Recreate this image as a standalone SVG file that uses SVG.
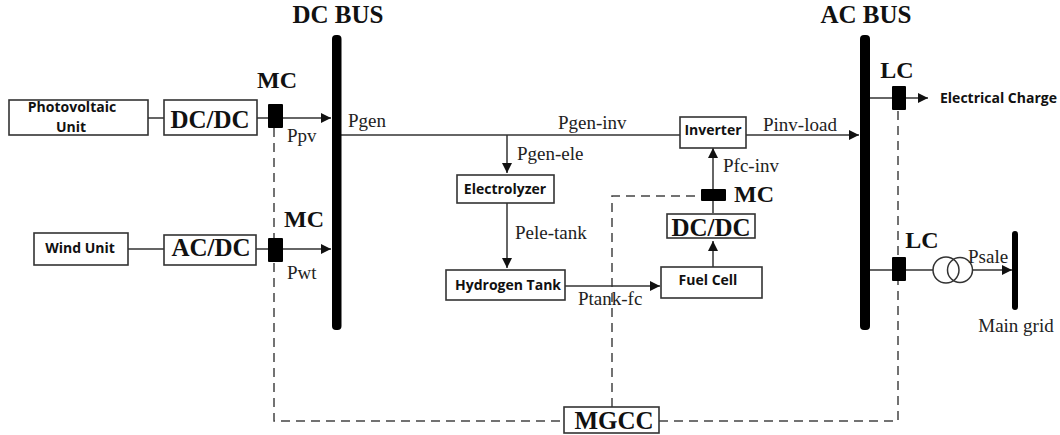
<svg xmlns="http://www.w3.org/2000/svg" width="1060" height="435" viewBox="0 0 1060 435">
<style>
.box{fill:#fff;stroke:#333;stroke-width:1.6}
.ln{fill:none;stroke:#333;stroke-width:1.5}
.arr{fill:none;stroke:#333;stroke-width:1.5;marker-end:url(#ah)}
.dash{fill:none;stroke:#444;stroke-width:1.5;stroke-dasharray:9 6}
.blk{fill:#000}
.s{font-family:"Open Sans","Liberation Sans",sans-serif;font-weight:700;font-size:14px;fill:#111}
.t{font-family:"Liberation Serif",serif;font-size:19px;fill:#222}
.b{font-family:"Liberation Serif",serif;font-weight:700;font-size:24px;fill:#111}
.h{font-family:"Liberation Serif",serif;font-weight:700;font-size:25px;fill:#111}
</style>
<defs>
<marker id="ah" markerUnits="userSpaceOnUse" markerWidth="11" markerHeight="10" refX="10" refY="5" orient="auto"><path d="M0 0L10 5L0 10Z" fill="#111"/></marker>
</defs>
<rect width="1060" height="435" fill="#fff"/>
<g id="connectors">
<path class="dash" d="M274 128V421H564"/>
<path class="dash" d="M659 421H898V110"/>
<path class="dash" d="M612 407V196H701"/>
<path class="ln" d="M148 118H164M257 118H268"/>
<path class="arr" d="M283 118H331"/>
<path class="ln" d="M128 249H164M256 249H268"/>
<path class="arr" d="M283 249H331"/>
<path class="ln" d="M341 135H680"/>
<path class="arr" d="M746 135H859"/>
<path class="arr" d="M507 135V173"/>
<path class="arr" d="M507 203V268"/>
<path class="arr" d="M565 286H660"/>
<path class="arr" d="M713 267V241"/>
<path class="ln" d="M713 213V201"/>
<path class="arr" d="M713 189V148"/>
<path class="ln" d="M870 98H892"/>
<path class="arr" d="M906 98H928"/>
<path class="ln" d="M870 270H892M906 270H933"/>
<path class="arr" d="M972 270H1012"/>
</g>
<g id="dc-bus"><rect class="blk" x="332" y="35" width="9.500" height="295" rx="4"/><text class="h" x="338" y="23" text-anchor="middle">DC BUS</text></g>
<g id="ac-bus"><rect class="blk" x="860" y="35" width="10" height="295" rx="4"/><text class="h" x="866" y="23" text-anchor="middle">AC BUS</text></g>
<g id="main-grid"><rect class="blk" x="1012" y="231" width="6" height="79" rx="3"/><text class="t" x="1016" y="332" text-anchor="middle">Main grid</text></g>
<g id="pv"><rect class="box" x="9" y="100" width="139" height="35"/><text class="s" x="72" y="112" text-anchor="middle">Photovoltaic</text><text class="s" x="71" y="132" text-anchor="middle">Unit</text></g>
<g id="dcdc1"><rect class="box" x="164" y="100" width="93" height="35"/><text class="h" x="210" y="128" text-anchor="middle">DC/DC</text></g>
<g id="wind"><rect class="box" x="34" y="233" width="94" height="32"/><text class="s" x="80" y="253" text-anchor="middle">Wind Unit</text></g>
<g id="acdc"><rect class="box" x="164" y="235" width="92" height="30"/><text class="h" x="211" y="256" text-anchor="middle">AC/DC</text></g>
<g id="mc1"><rect class="blk" x="268" y="104" width="15" height="24" rx="1"/><text class="b" x="277" y="88" text-anchor="middle">MC</text></g>
<g id="mc2"><rect class="blk" x="268" y="238" width="15" height="24" rx="1"/><text class="b" x="304" y="227" text-anchor="middle">MC</text></g>
<g id="electrolyzer"><rect class="box" x="457" y="175" width="97" height="28"/><text class="s" x="505" y="194" text-anchor="middle">Electrolyzer</text></g>
<g id="tank"><rect class="box" x="446" y="270" width="119" height="30"/><text class="s" x="508" y="290" text-anchor="middle">Hydrogen Tank</text></g>
<g id="fuel-cell"><rect class="box" x="661" y="267" width="101" height="31"/><text class="s" x="708" y="285" text-anchor="middle">Fuel Cell</text></g>
<g id="dcdc2"><rect class="box" x="667" y="214" width="88" height="24"/><text class="h" x="711" y="236" text-anchor="middle">DC/DC</text></g>
<g id="mc3"><rect class="blk" x="701" y="189" width="25" height="12" rx="1"/><text class="b" x="754" y="202" text-anchor="middle">MC</text></g>
<g id="inverter"><rect class="box" x="680" y="117" width="66" height="31"/><text class="s" x="713" y="135" text-anchor="middle">Inverter</text></g>
<g id="lc1"><rect class="blk" x="892" y="86" width="14" height="24" rx="1"/><text class="b" x="897" y="78" text-anchor="middle">LC</text></g>
<g id="lc2"><rect class="blk" x="892" y="257" width="14" height="24" rx="1"/><text class="b" x="922" y="248" text-anchor="middle">LC</text></g>
<g id="transformer"><circle class="ln" cx="946" cy="270" r="13"/><circle class="ln" cx="960" cy="270" r="12.500"/></g>
<g id="mgcc"><rect class="box" x="564" y="407" width="95" height="26"/><text class="h" x="614" y="429" text-anchor="middle">MGCC</text></g>
<g id="labels">
<text class="t" x="287" y="142">Ppv</text>
<text class="t" x="287" y="279">Pwt</text>
<text class="t" x="348" y="127">Pgen</text>
<text class="t" x="558" y="129">Pgen-inv</text>
<text class="t" x="517" y="160">Pgen-ele</text>
<text class="t" x="515" y="239">Pele-tank</text>
<text class="t" x="578" y="305">Ptank-fc</text>
<text class="t" x="723" y="172">Pfc-inv</text>
<text class="t" x="763" y="131">Pinv-load</text>
<text class="t" x="968" y="263">Psale</text>
<text class="s" x="940" y="103">Electrical Charge</text>
</g>
</svg>
